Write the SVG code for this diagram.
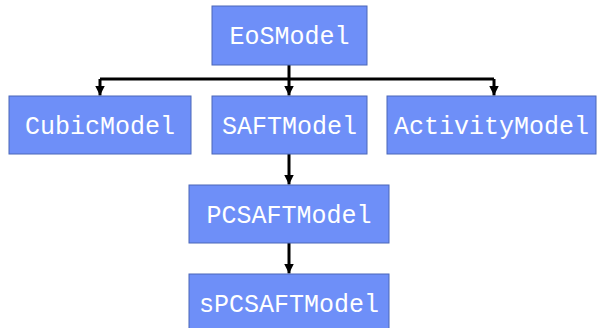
<svg xmlns="http://www.w3.org/2000/svg" width="597" height="328" viewBox="0 0 597 328">
<style>
.n{fill:#6e8ff8;stroke:#4b67b8;stroke-width:1}
.t{font-family:"Liberation Mono","Courier New",monospace;font-size:25px;fill:#ffffff;text-anchor:middle}
.c{fill:none;stroke:#000;stroke-width:3}
</style>
<defs>
<marker id="a" viewBox="0 0 10 10" refX="10" refY="5" markerWidth="3.2" markerHeight="3.2" orient="auto" markerUnits="strokeWidth">
<path d="M0,0L10,5L0,10z" fill="#000"/>
</marker>
</defs>
<rect width="597" height="328" fill="#fff"/>
<g id="connectors">
<path class="c" d="M289,65V79"/>
<path class="c" d="M100,79H494"/>
<path class="c" d="M100,79V95.5" marker-end="url(#a)"/>
<path class="c" d="M289,79V95.5" marker-end="url(#a)"/>
<path class="c" d="M494,79V95.5" marker-end="url(#a)"/>
<path class="c" d="M289,154V184.5" marker-end="url(#a)"/>
<path class="c" d="M289,243V273.5" marker-end="url(#a)"/>
</g>
<g id="EoSModel"><rect class="n" x="212" y="6" width="155" height="59"/><text class="t" x="289.5" y="44">EoSModel</text></g>
<g id="CubicModel"><rect class="n" x="9" y="96" width="182" height="58"/><text class="t" x="100" y="134">CubicModel</text></g>
<g id="SAFTModel"><rect class="n" x="212" y="96" width="155" height="58"/><text class="t" x="289.5" y="134">SAFTModel</text></g>
<g id="ActivityModel"><rect class="n" x="387" y="96" width="209" height="58"/><text class="t" x="491.5" y="134">ActivityModel</text></g>
<g id="PCSAFTModel"><rect class="n" x="189" y="185" width="200" height="58"/><text class="t" x="289" y="223">PCSAFTModel</text></g>
<g id="sPCSAFTModel"><rect class="n" x="189" y="274" width="200" height="60"/><text class="t" x="289" y="312">sPCSAFTModel</text></g>
</svg>
